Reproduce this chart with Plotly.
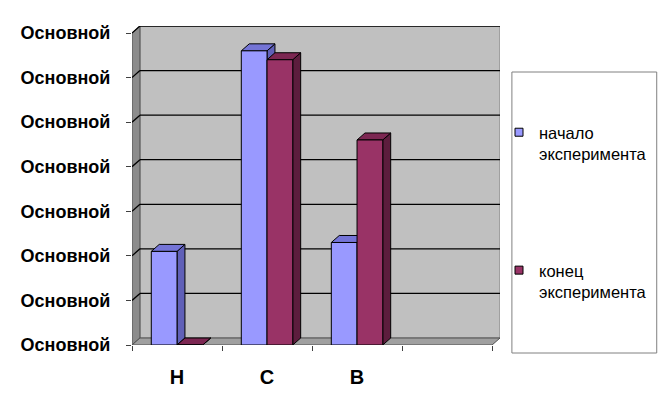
import plotly.graph_objects as go

# данные (значения в долях шага сетки, подписи оси все "Основной")
categories = ["Н", "С", "В", ""]
start_values = [2.1, 6.6, 2.3, None]
end_values = [0.0, 6.4, 4.6, None]
series_names = ["начало<br>эксперимента", "конец<br>эксперимента"]
y_ticktext = ["Основной"] * 8

W, H = 664, 403
L, R, T, B = 132, 161, 26, 58
n_cat = len(categories)
y_max = len(y_ticktext) - 1

plot_w = W - L - R
plot_h = H - T - B
depth_px = (8, 7)
cat_px = (plot_w - depth_px[0]) / n_cat
unit_px = (plot_h - depth_px[1]) / y_max
dx = depth_px[0] / cat_px
dy = depth_px[1] / unit_px
x_end = n_cat + dx
y_end = y_max + dy

bw = 1 / 3.5  # ширина столбца при зазоре 150%
offsets = [(0.5 - bw, 0.5), (0.5, 0.5 + bw)]

colors = [
    dict(front="#9999FF", top="#7474D6", side="#6060B8"),
    dict(front="#993366", top="#7C2752", side="#5C1D3D"),
]

fig = go.Figure()


def poly(points_list):
    xs, ys = [], []
    for pts in points_list:
        for px, py in pts:
            xs.append(px)
            ys.append(py)
        xs.append(pts[0][0])
        ys.append(pts[0][1])
        xs.append(None)
        ys.append(None)
    return xs, ys


for s, vals in enumerate([start_values, end_values]):
    a, b = offsets[s]
    side, top, front = [], [], []
    for i, v in enumerate(vals):
        if v is None:
            continue
        x0, x1 = i + a, i + b
        side.append([(x1, 0), (x1 + dx, dy), (x1 + dx, v + dy), (x1, v)])
        top.append([(x0, v), (x1, v), (x1 + dx, v + dy), (x0 + dx, v + dy)])
        front.append([(x0, 0), (x1, 0), (x1, v), (x0, v)])
    for faces, key in [(side, "side"), (top, "top"), (front, "front")]:
        xs, ys = poly(faces)
        fig.add_trace(go.Scatter(
            x=xs, y=ys, mode="lines", fill="toself",
            fillcolor=colors[s][key], line=dict(color="black", width=1),
            showlegend=False, hoverinfo="skip"
        ))

# легенда
for s, name in enumerate(series_names):
    fig.add_trace(go.Scatter(
        x=[None], y=[None], mode="markers", name=name,
        legendgroup=str(s),
        marker=dict(symbol="square", size=8, color=colors[s]["front"],
                    line=dict(color="black", width=1))
    ))

shapes = []
# задняя стенка
shapes.append(dict(type="rect", xref="x", yref="y", x0=dx, y0=dy, x1=x_end, y1=y_end,
                   fillcolor="#C0C0C0", line=dict(color="#808080", width=1), layer="below"))
# боковая стенка
shapes.append(dict(type="path", xref="x", yref="y",
                   path=f"M0,0 L{dx},{dy} L{dx},{y_end} L0,{y_max} Z",
                   fillcolor="#8C8C8C", line=dict(color="#505050", width=1), layer="below"))
# пол
shapes.append(dict(type="path", xref="x", yref="y",
                   path=f"M0,0 L{n_cat},0 L{x_end},{dy} L{dx},{dy} Z",
                   fillcolor="#A0A0A0", line=dict(color="#505050", width=1), layer="below"))
# линии сетки
for k in range(1, y_max + 1):
    shapes.append(dict(type="line", xref="x", yref="y", x0=dx, y0=k + dy, x1=x_end, y1=k + dy,
                       line=dict(color="black", width=1.3), layer="below"))
    shapes.append(dict(type="line", xref="x", yref="y", x0=0, y0=k, x1=dx, y1=k + dy,
                       line=dict(color="black", width=1.3), layer="below"))
# рамка легенды
shapes.append(dict(type="rect", xref="paper", yref="paper",
                   x0=(515 - L) / plot_w, x1=(661 - L) / plot_w,
                   y0=(H - B - 353) / plot_h, y1=(H - B - 72) / plot_h,
                   fillcolor="white", line=dict(color="#808080", width=1), layer="below"))

fig.update_layout(
    width=W, height=H,
    margin=dict(l=L, r=R, t=T, b=B),
    paper_bgcolor="white", plot_bgcolor="white",
    font=dict(family="Liberation Sans, Arial, sans-serif", color="black"),
    shapes=shapes,
    showlegend=True,
    legend=dict(
        x=(502 - L) / plot_w, xanchor="left",
        y=(H - B - 115) / plot_h, yanchor="top",
        bgcolor="rgba(0,0,0,0)", borderwidth=0,
        font=dict(size=16.5, family="Liberation Sans, Arial, sans-serif"),
        tracegroupgap=92, valign="top",
    ),
)

fig.update_xaxes(
    range=[0, x_end], showgrid=False, zeroline=False, showline=False,
    tickmode="array", tickvals=[i + 0.5 for i in range(n_cat)], ticktext=categories,
    ticks="", ticklabelstandoff=18,
    tickfont=dict(size=20, family="Liberation Sans, Arial, sans-serif", weight="bold"),
    minor=dict(tickmode="array", tickvals=list(range(n_cat + 1)), ticks="outside",
               ticklen=5, tickcolor="#404040", tickwidth=1),
    fixedrange=True,
)
fig.update_yaxes(
    range=[0, y_end], showgrid=False, zeroline=False, showline=False,
    tickmode="array", tickvals=list(range(y_max + 1)), ticktext=y_ticktext,
    ticks="outside", ticklen=5, tickcolor="#404040", ticklabelstandoff=12,
    tickfont=dict(size=18, family="Liberation Sans, Arial, sans-serif", weight="bold"),
    fixedrange=True,
)

fig.write_html("out.html", config={"displayModeBar": False},
               post_script="document.body.style.margin='0';")
